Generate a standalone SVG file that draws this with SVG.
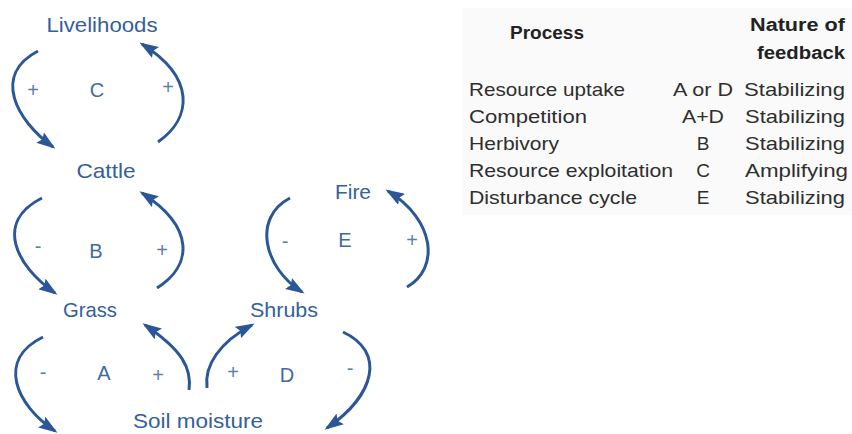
<svg xmlns="http://www.w3.org/2000/svg" width="852" height="434" viewBox="0 0 852 434">
<style>
.lbl{font-family:"Liberation Sans",Arial,sans-serif;font-size:21px;fill:#34609c;text-anchor:middle}
.let{font-family:"Liberation Sans",Arial,sans-serif;font-size:20px;fill:#3f69a3;text-anchor:middle}
.sgn{font-family:"Liberation Sans",Arial,sans-serif;font-size:20px;fill:#5b7fb1;text-anchor:middle}
.arc{fill:none;stroke:#2b5796;stroke-width:3;marker-end:url(#ah)}
.th{font-family:"Liberation Sans",Arial,sans-serif;font-size:18px;font-weight:bold;fill:#222}
.td{font-family:"Liberation Sans",Arial,sans-serif;font-size:19px;fill:#2e2e2e}
.tm{font-family:"Liberation Sans",Arial,sans-serif;font-size:19px;fill:#2e2e2e;text-anchor:middle}
</style>
<defs>
<marker id="ah" viewBox="0 0 19 13" refX="16" refY="6.5" markerWidth="19" markerHeight="13" markerUnits="userSpaceOnUse" orient="auto">
<path d="M0,0 L19,6.5 L0,13 L3,6.5 z" fill="#2b5796"/>
</marker>
</defs>
<rect width="852" height="434" fill="#ffffff"/>
<rect x="462" y="8" width="390" height="207" fill="#fafafa"/>

<g id="connectors">
<path class="arc" d="M38,51 C -8,75 16,120 53,147"/>
<path class="arc" d="M158,142 C 192,118 196,78 142,44"/>
<path class="arc" d="M42,198 C -6,222 16,266 55,293"/>
<path class="arc" d="M157,288 C 192,266 196,228 142,193"/>
<path class="arc" d="M43,337 C -4,360 16,405 55,431"/>
<path class="arc" d="M189,390 C 192,368 182,350 145,325"/>
<path class="arc" d="M207,388 C 204,365 220,342 252,325"/>
<path class="arc" d="M343,332 C 386,352 375,395 327,428"/>
<path class="arc" d="M290,198 C 252,218 264,268 302,292"/>
<path class="arc" d="M407,287 C 440,268 435,220 388,191"/>
</g>

<g id="livelihoods"><text class="lbl" x="102" y="32" textLength="111" lengthAdjust="spacingAndGlyphs">Livelihoods</text></g>
<g id="cattle"><text class="lbl" x="106" y="178" textLength="59" lengthAdjust="spacingAndGlyphs">Cattle</text></g>
<g id="grass"><text class="lbl" x="90" y="317" textLength="54" lengthAdjust="spacingAndGlyphs">Grass</text></g>
<g id="soil-moisture"><text class="lbl" x="198" y="428" textLength="130" lengthAdjust="spacingAndGlyphs">Soil moisture</text></g>
<g id="shrubs"><text class="lbl" x="284" y="317" textLength="68" lengthAdjust="spacingAndGlyphs">Shrubs</text></g>
<g id="fire"><text class="lbl" x="353" y="199" textLength="36" lengthAdjust="spacingAndGlyphs">Fire</text></g>

<g id="loop-C">
<text class="sgn" x="33" y="97">+</text>
<text class="let" x="97" y="97">C</text>
<text class="sgn" x="168" y="94">+</text>
</g>
<g id="loop-B">
<text class="sgn" x="38" y="253">-</text>
<text class="let" x="96" y="258">B</text>
<text class="sgn" x="162" y="257">+</text>
</g>
<g id="loop-A">
<text class="sgn" x="43" y="379">-</text>
<text class="let" x="104" y="380">A</text>
<text class="sgn" x="158" y="382">+</text>
</g>
<g id="loop-D">
<text class="sgn" x="233" y="379">+</text>
<text class="let" x="287" y="382">D</text>
<text class="sgn" x="350" y="375">-</text>
</g>
<g id="loop-E">
<text class="sgn" x="285" y="248">-</text>
<text class="let" x="345" y="247">E</text>
<text class="sgn" x="412" y="247">+</text>
</g>

<g id="table">
<text class="th" x="510" y="39" textLength="74" lengthAdjust="spacingAndGlyphs">Process</text>
<text class="th" x="750" y="31" textLength="95" lengthAdjust="spacingAndGlyphs">Nature of</text>
<text class="th" x="757" y="59" textLength="88" lengthAdjust="spacingAndGlyphs">feedback</text>

<text class="td" x="469" y="96" textLength="156" lengthAdjust="spacingAndGlyphs">Resource uptake</text>
<text class="td" x="469" y="123" textLength="118" lengthAdjust="spacingAndGlyphs">Competition</text>
<text class="td" x="469" y="150" textLength="90" lengthAdjust="spacingAndGlyphs">Herbivory</text>
<text class="td" x="469" y="177" textLength="204" lengthAdjust="spacingAndGlyphs">Resource exploitation</text>
<text class="td" x="469" y="204" textLength="168" lengthAdjust="spacingAndGlyphs">Disturbance cycle</text>

<text class="tm" x="703" y="96" textLength="60" lengthAdjust="spacingAndGlyphs">A or D</text>
<text class="tm" x="703" y="123" textLength="42" lengthAdjust="spacingAndGlyphs">A+D</text>
<text class="tm" x="703" y="150">B</text>
<text class="tm" x="703" y="177">C</text>
<text class="tm" x="703" y="204">E</text>

<text class="td" x="744" y="96" textLength="101" lengthAdjust="spacingAndGlyphs">Stabilizing</text>
<text class="td" x="745" y="123" textLength="100" lengthAdjust="spacingAndGlyphs">Stabilizing</text>
<text class="td" x="745" y="150" textLength="100" lengthAdjust="spacingAndGlyphs">Stabilizing</text>
<text class="td" x="745" y="177" textLength="103" lengthAdjust="spacingAndGlyphs">Amplifying</text>
<text class="td" x="745" y="204" textLength="100" lengthAdjust="spacingAndGlyphs">Stabilizing</text>
</g>
</svg>
